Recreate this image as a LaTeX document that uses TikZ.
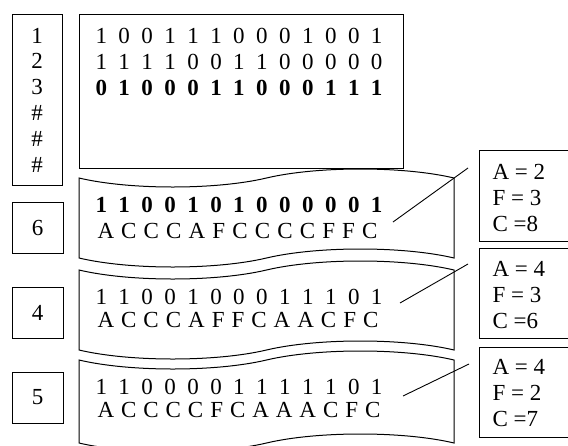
\documentclass[tikz,border=0pt]{standalone}
\usepackage{fontspec}
\setmainfont{Liberation Serif}

% spread a string of single characters evenly across a box of given width
\def\sprdnext#1{\ifx#1\relax\else\hfill#1\expandafter\sprdnext\fi}
\def\sprdfirst#1{#1\sprdnext}
\newcommand\spreadrow[2]{\hbox to #1{\sprdfirst#2\relax}}

% punched-tape outline: #1 left x, #2 right x, #3 top y, #4 bottom y
% each edge is one wave: a sag over the left half, a hump over the right half
\newcommand\tapeshape[4]{%
  \pgfmathsetmacro\hw{(#2-#1)/2}%   half width
  \pgfmathsetmacro\cx{0.27*\hw}%    control offset along the edge
  \pgfmathsetmacro\ch{4/3*9}%       control offset across the edge (wave depth 9)
  \pgfmathsetmacro\xm{#1+\hw}%
  \draw (#1,#3)
    .. controls (#1+\cx,#3+\ch) and (\xm-\cx,#3+\ch) .. (\xm,#3)
    .. controls (\xm+\cx,#3-\ch) and (#2-\cx,#3-\ch) .. (#2,#3)
    -- (#2,#4)
    .. controls (#2-\cx,#4-\ch) and (\xm+\cx,#4-\ch) .. (\xm,#4)
    .. controls (\xm-\cx,#4+\ch) and (#1+\cx,#4+\ch) .. (#1,#4)
    -- cycle;}

\begin{document}
\begin{tikzpicture}[x=1pt,y=-1pt,line width=1pt,
  every node/.style={font=\fontsize{23}{26}\selectfont},
  frame/.style={draw,inner sep=0pt},
  row/.style={inner sep=0pt,anchor=west},
  tally/.style={inner sep=0pt,anchor=west,align=left},
  lead/.style={line width=0.9pt}]
\useasboundingbox (0,0) rectangle (568,445);
\clip (0,0) rectangle (568,445);

% left column of row labels
\node[frame,minimum width=50pt,minimum height=171pt,align=center,
      font=\fontsize{23}{25.8}\selectfont] (labels) at (37,100)
  {1\\2\\3\\\#\\\#\\\#};

% main table
\node[frame,minimum width=324pt,minimum height=154pt] (table) at (241,91) {};
\node[row] (r1) at (95,35.5) {\spreadrow{287pt}{1001110001001}};
\node[row] (r2) at (95,62)   {\spreadrow{287pt}{1111001100000}};
\node[row,font=\fontsize{23}{26}\selectfont\bfseries] (r3) at (95,88)
  {\spreadrow{287pt}{0100011000111}};

% three tapes
\tapeshape{79}{454}{178}{258}
\tapeshape{79}{454}{270}{350}
\tapeshape{79}{454}{360}{443}

\node[row,font=\fontsize{23}{26}\selectfont\bfseries] (t1a) at (95,205)
  {\spreadrow{287pt}{1100101000001}};
\node[row] (t1b) at (97,231) {\spreadrow{280pt}{ACCCAFCCCCFFC}};
\node[row] (t2a) at (95,297) {\spreadrow{287pt}{1100100011101}};
\node[row] (t2b) at (97,320) {\spreadrow{281pt}{ACCCAFFCAACFC}};
\node[row] (t3a) at (95,387) {\spreadrow{287pt}{1100001111101}};
\node[row] (t3b) at (97,410) {\spreadrow{283pt}{ACCCCFCAAACFC}};

% selected row numbers
\node[frame,minimum width=51pt,minimum height=51pt] (n6) at (37.5,227.5) {6};
\node[frame,minimum width=51pt,minimum height=51pt] (n4) at (37.5,312.5) {4};
\node[frame,minimum width=51pt,minimum height=51pt] (n5) at (37.5,397.5) {5};

% counts
\node[frame,minimum width=91pt,minimum height=91pt] (c1) at (524.5,195.5) {};
\node[frame,minimum width=91pt,minimum height=90pt] (c2) at (524.5,293) {};
\node[frame,minimum width=91pt,minimum height=90pt] (c3) at (524.5,392) {};
\node[tally] (c1t) at (492,198) {A = 2\\F = 3\\C =8};
\node[tally] (c2t) at (492,295) {A = 4\\F = 3\\C =6};
\node[tally] (c3t) at (492,393) {A = 4\\F = 2\\C =7};

% leader lines
\coordinate (l1a) at (393,222); \coordinate (l1b) at (468,168);
\coordinate (l2a) at (400,303); \coordinate (l2b) at (468,264);
\coordinate (l3a) at (403,396); \coordinate (l3b) at (469,364);
\draw[lead] (l1a) -- (l1b);
\draw[lead] (l2a) -- (l2b);
\draw[lead] (l3a) -- (l3b);
\end{tikzpicture}
\end{document}
